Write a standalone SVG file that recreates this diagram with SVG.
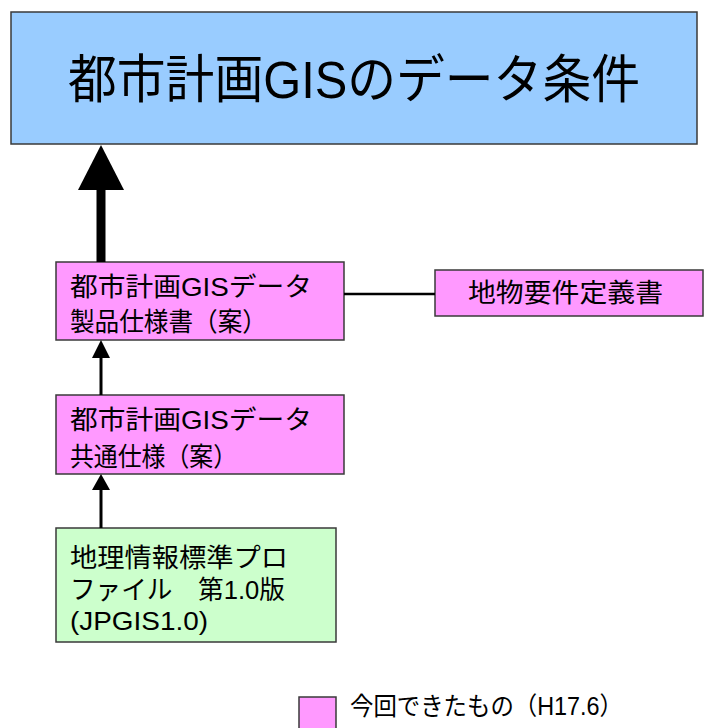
<svg xmlns="http://www.w3.org/2000/svg" width="706" height="728" viewBox="0 0 706 728">
<style>
  .box { stroke:#3a3a3a; stroke-width:1.5; }
  .blue { fill:#99CCFF; }
  .pink { fill:#FF99FF; }
  .green { fill:#CCFFCC; }
  text { font-family:"Liberation Sans","Noto Sans CJK JP",sans-serif; fill:#000; }
  .t { font-size:26px; }
  .conn { stroke:#000; fill:none; }
</style>
<rect width="706" height="728" fill="#fff"/>
<g id="node-title">
  <rect class="box blue" x="11" y="12" width="686" height="132"/>
  <text x="68" y="98" font-size="52" textLength="572" lengthAdjust="spacingAndGlyphs">都市計画GISのデータ条件</text>
</g>
<g id="node-product">
  <rect class="box pink" x="56" y="262" width="288" height="78"/>
  <text class="t" x="70" y="296" textLength="242" lengthAdjust="spacingAndGlyphs">都市計画GISデータ</text>
  <text class="t" x="70" y="331" textLength="197" lengthAdjust="spacingAndGlyphs">製品仕様書（案）</text>
</g>
<g id="node-feature">
  <rect class="box pink" x="435" y="270" width="268" height="46"/>
  <text class="t" x="468" y="302" textLength="195" lengthAdjust="spacingAndGlyphs">地物要件定義書</text>
</g>
<g id="node-common">
  <rect class="box pink" x="56" y="395" width="288" height="79"/>
  <text class="t" x="70" y="429" textLength="242" lengthAdjust="spacingAndGlyphs">都市計画GISデータ</text>
  <text class="t" x="70" y="466" textLength="167" lengthAdjust="spacingAndGlyphs">共通仕様（案）</text>
</g>
<g id="node-jpgis">
  <rect class="box green" x="56" y="528" width="280" height="114"/>
  <text class="t" x="70" y="567" textLength="218" lengthAdjust="spacingAndGlyphs">地理情報標準プロ</text>
  <text class="t" x="70" y="599" textLength="215" lengthAdjust="spacingAndGlyphs">ファイル　第1.0版</text>
  <text class="t" x="70" y="630" textLength="138" lengthAdjust="spacingAndGlyphs">(JPGIS1.0)</text>
</g>
<g id="legend">
  <rect class="box pink" x="299" y="697" width="37" height="40"/>
  <text x="350" y="715" font-size="25" textLength="273" lengthAdjust="spacingAndGlyphs">今回できたもの（H17.6）</text>
</g>
<g id="connectors">
  <line class="conn" x1="101" y1="262" x2="101" y2="188" stroke-width="9"/>
  <polygon points="101,145 78,190 124,190" fill="#000"/>
  <line class="conn" x1="101" y1="395" x2="101" y2="356" stroke-width="3"/>
  <polygon points="101,340 92,358 110,358" fill="#000"/>
  <line class="conn" x1="101" y1="528" x2="101" y2="488" stroke-width="3"/>
  <polygon points="101,474 92,490 110,490" fill="#000"/>
  <line class="conn" x1="344" y1="294" x2="435" y2="294" stroke-width="2.5"/>
</g>
</svg>
